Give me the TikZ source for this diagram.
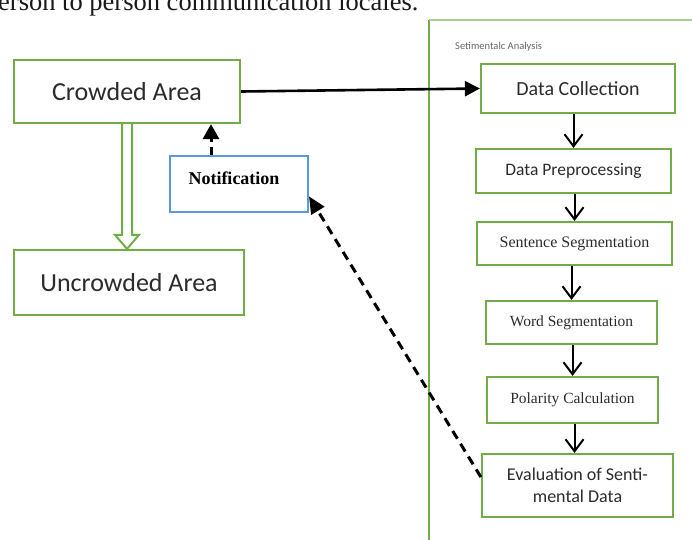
\documentclass[tikz,border=0pt]{standalone}
\usepackage{fontspec}
\setmainfont{Liberation Serif}
\newfontfamily\calfont{Carlito}
\usetikzlibrary{arrows.meta,calc}
\definecolor{grn}{HTML}{70AD47}
\definecolor{grnlt}{HTML}{A9D18E}
\definecolor{blu}{HTML}{5B9BD5}
\definecolor{txt}{HTML}{2B2B2B}
\begin{document}
\begin{tikzpicture}[x=1pt,y=-1pt,
  gbox/.style={draw=grn, line width=2.2pt, inner sep=0pt, text=txt, align=center},
  cal/.style={font=\calfont\fontsize{#1}{#1}\selectfont},
  ser/.style={font=\fontsize{#1}{#1}\selectfont},
  flow/.style={line width=2pt, -{Straight Barb[length=12pt,width=18pt,line width=2pt]}},
  dsh/.style={line width=3pt, dash pattern=on 9pt off 6pt}]
\useasboundingbox (0,0) rectangle (692,539);
% partial text at top
\node[anchor=base west, inner sep=0pt, font=\fontsize{26.5}{30}\selectfont, text=black!90] (toptext) at (-2,10) {erson to person communication locales.};
% container
\draw[grn, line width=2pt] (429,20) -- (429,545);
\draw[grnlt, line width=1.5pt] (429,20) -- (700,20);
\node[cal=10.5, text=black!60, anchor=west, inner sep=0pt] (title) at (455,47) {Setimentalc Analysis};
% left nodes
\node[gbox, cal=26, minimum width=226pt, minimum height=63pt] (ca) at (127,91.5) {Crowded Area};
\node[gbox, cal=26, minimum width=230pt, minimum height=65pt] (uc) at (129,282.5) {Uncrowded Area};
\node[draw=blu, line width=2pt, inner sep=0pt, minimum width=138pt, minimum height=56pt, text height=12pt, text depth=12pt, font=\bfseries\fontsize{18}{18}\selectfont] (nt) at (239,184) {\hspace*{-10pt}Notification};
% right nodes
\node[gbox, cal=20, minimum width=194pt, minimum height=49pt] (dc) at (578,88.5) {Data Collection};
\node[gbox, cal=17.5, minimum width=195pt, minimum height=44pt] (dp) at (573.5,171) {Data Preprocessing};
\node[gbox, ser=16, minimum width=195pt, minimum height=43pt] (ss) at (574.5,243.5) {Sentence Segmentation};
\node[gbox, ser=15.5, minimum width=171pt, minimum height=43pt] (ws) at (571.5,322.5) {Word Segmentation};
\node[gbox, ser=15.5, minimum width=171pt, minimum height=46pt] (pc) at (572.5,400) {Polarity Calculation};
\node[gbox, font=\calfont\fontsize{18}{22}\selectfont, minimum width=191pt, minimum height=63pt] (ev) at (577.5,485.5) {Evaluation of Senti-\\mental Data};
% flow arrows
\draw[flow] (dp.north |- dc.south) -- (dp.north);
\draw[flow] (ss.north |- dp.south) -- (ss.north);
\draw[flow] (ws.north |- ss.south) -- (ws.north);
\draw[flow] (pc.north |- ws.south) -- (pc.north);
\draw[flow] ($(ev.north |- pc.south)+(-3,0)$) -- ($(ev.north)+(-3,0)$);
% main arrow
\draw[line width=2.6pt, -{Triangle[length=15pt,width=15pt]}] (ca.east) -- (dc.west);
% double arrow crowded -> uncrowded
\coordinate (dt) at (ca.south |- uc.north);
\draw[grn, line width=2pt, line join=miter] ($(ca.south)+(-5,0)$) -- ($(dt)+(-5,-14)$) -- ($(dt)+(-12,-14)$) -- (dt) -- ($(dt)+(12,-14)$) -- ($(dt)+(5,-14)$) -- ($(ca.south)+(5,0)$);
% notification -> crowded
\coordinate (ntop) at ($(nt.north)+(-28,0)$);
\draw[line width=3pt, dash pattern=on 8pt off 5pt, -{Triangle[length=15pt,width=16pt]}] (ntop) -- (ntop |- ca.south);
% evaluation -> notification
\draw[dsh, -{Triangle[length=17pt,width=15pt]}] (ev.175) -- (nt.-10);
\end{tikzpicture}
\end{document}
